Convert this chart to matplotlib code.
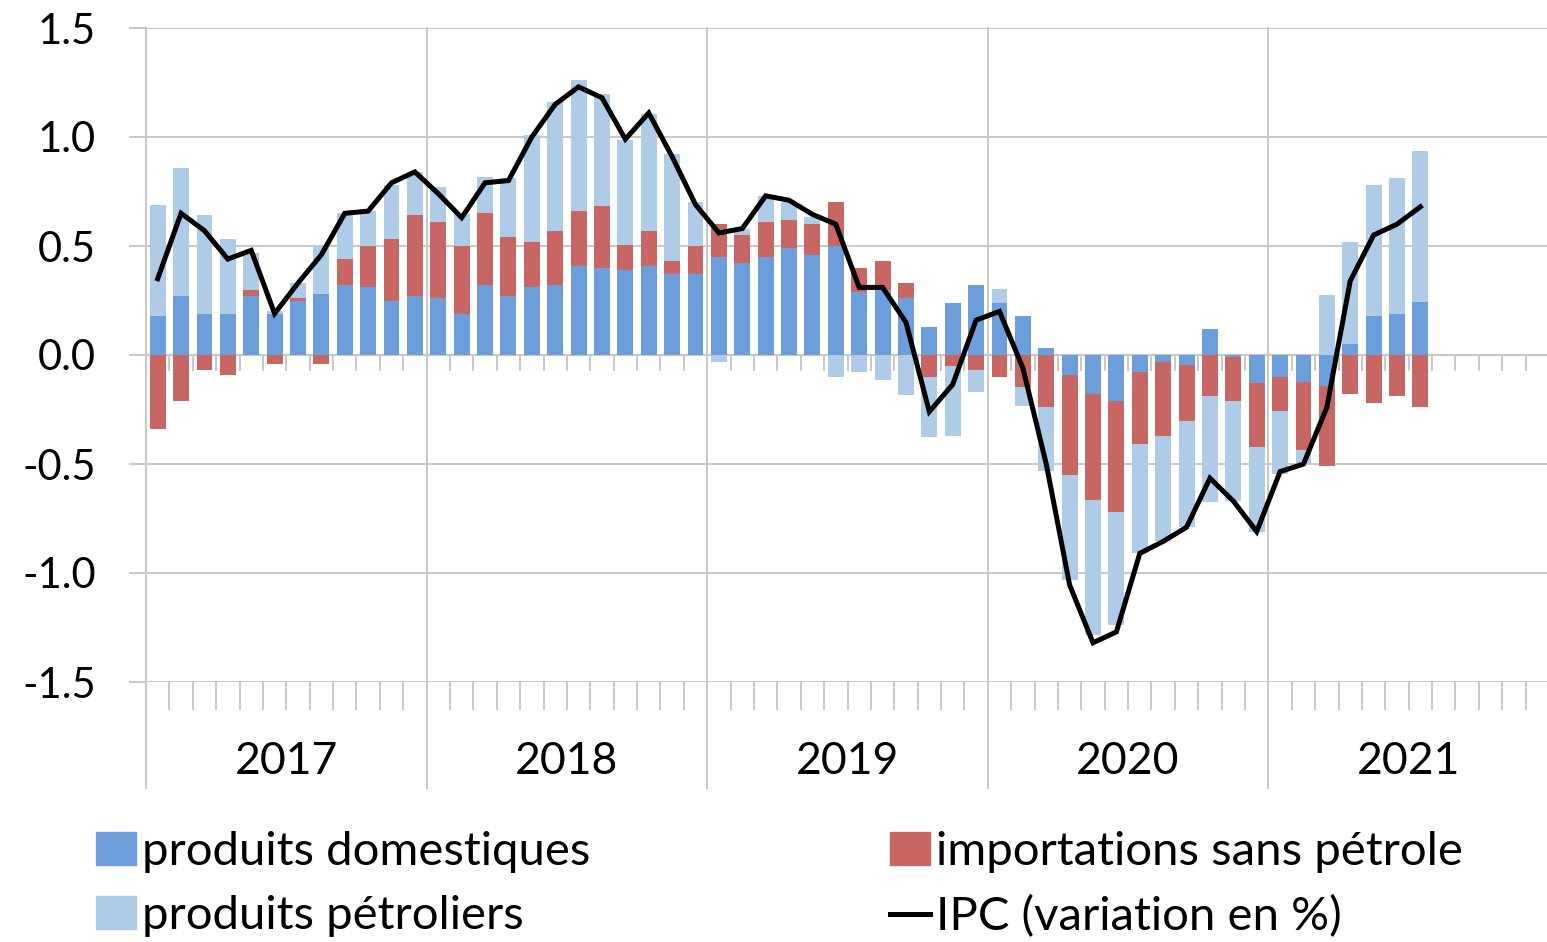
import numpy as np
import matplotlib
matplotlib.use("Agg")
from matplotlib import pyplot as plt
from matplotlib.patches import Patch
from matplotlib.lines import Line2D

plt.rcParams['font.family'] = ['Lato', 'DejaVu Sans']

years = ['2017', '2018', '2019', '2020', '2021']
n_months = 60

# contributions (points de %), janv. 2017 - juil. 2021
domestiques = [0.18, 0.27, 0.19, 0.19, 0.27, 0.19, 0.25, 0.28, 0.32, 0.31, 0.25, 0.27,
               0.26, 0.19, 0.32, 0.27, 0.31, 0.32, 0.41, 0.40, 0.39, 0.41, 0.37, 0.37,
               0.45, 0.42, 0.45, 0.49, 0.46, 0.50, 0.29, 0.30, 0.26, 0.13, 0.24, 0.32,
               0.24, 0.18, 0.03, -0.09, -0.18, -0.21, -0.08, -0.03, -0.045, 0.12, -0.01, -0.13,
               -0.10, -0.125, -0.14, 0.05, 0.18, 0.19, 0.245]
importations = [-0.34, -0.21, -0.07, -0.09, 0.03, -0.04, 0.01, -0.04, 0.12, 0.19, 0.28, 0.37,
                0.35, 0.31, 0.33, 0.27, 0.21, 0.25, 0.25, 0.285, 0.115, 0.16, 0.06, 0.13,
                0.15, 0.13, 0.16, 0.13, 0.14, 0.20, 0.11, 0.13, 0.07, -0.10, -0.05, -0.07,
                -0.10, -0.145, -0.24, -0.46, -0.485, -0.51, -0.33, -0.34, -0.26, -0.19, -0.20, -0.29,
                -0.155, -0.31, -0.37, -0.18, -0.22, -0.19, -0.24]
petroliers = [0.51, 0.59, 0.45, 0.34, 0.17, 0.01, 0.07, 0.22, 0.21, 0.16, 0.25, 0.20,
              0.16, 0.145, 0.165, 0.27, 0.49, 0.59, 0.60, 0.51, 0.48, 0.535, 0.49, 0.20,
              -0.03, 0.03, 0.12, 0.08, 0.035, -0.10, -0.08, -0.115, -0.185, -0.275, -0.32, -0.10,
              0.063, -0.09, -0.29, -0.48, -0.62, -0.52, -0.50, -0.485, -0.485, -0.485, -0.46, -0.39,
              -0.29, -0.065, 0.275, 0.47, 0.60, 0.62, 0.69]
ipc = [0.35, 0.65, 0.57, 0.44, 0.48, 0.19, 0.33, 0.46, 0.65, 0.66, 0.79, 0.84,
       0.74, 0.63, 0.79, 0.80, 1.00, 1.15, 1.23, 1.18, 0.99, 1.11, 0.91, 0.69,
       0.56, 0.58, 0.73, 0.71, 0.645, 0.60, 0.31, 0.31, 0.15, -0.26, -0.135, 0.16,
       0.20, -0.06, -0.50, -1.055, -1.32, -1.27, -0.91, -0.855, -0.79, -0.565, -0.67, -0.81,
       -0.535, -0.50, -0.24, 0.34, 0.55, 0.60, 0.68]

labels = ['produits domestiques', 'importations sans pétrole', 'produits pétroliers', 'IPC (variation en %)']
colors = ['#6B9EDA', '#C86663', '#AECCE8']

W, H = 1547, 942
fig = plt.figure(figsize=(W / 100, H / 100), dpi=100)
ax = fig.add_axes([146 / W, 1 - 682 / H, 1403 / W, 654 / H])

x = np.arange(len(ipc))
pos = np.zeros(len(x))
neg = np.zeros(len(x))
for vals, c in zip([domestiques, importations, petroliers], colors):
    v = np.array(vals)
    bottom = np.where(v >= 0, pos, neg)
    ax.bar(x, v, bottom=bottom, width=0.68, color=c, zorder=2)
    pos = pos + np.where(v >= 0, v, 0)
    neg = neg + np.where(v < 0, v, 0)

ax.plot(x, ipc, color='black', lw=3.6, zorder=3, solid_joinstyle='miter')

grid_c = '#C8C8C8'
ax.set_xlim(-0.5, n_months - 0.5)
ax.set_ylim(-1.5, 1.5)
ax.set_yticks(np.arange(-1.5, 1.51, 0.5))
ax.set_yticklabels([f'{t:.1f}' for t in np.arange(-1.5, 1.51, 0.5)], fontsize=30)
ax.yaxis.grid(True, color=grid_c, lw=1.4, zorder=0)
ax.tick_params(axis='y', length=12, width=1.4, color=grid_c, pad=24)
ax.set_xticks([])
for s in ax.spines.values():
    s.set_visible(False)
ax.axhline(0, color=grid_c, lw=1.6, zorder=1)

# séparateurs d'années et graduations mensuelles
for k in range(len(years) + 1):
    xb = -0.5 + 12 * k
    ax.plot([xb, xb], [1.0, -0.162], transform=ax.get_xaxis_transform(),
            color=grid_c, lw=1.4, clip_on=False, zorder=0)
for m in range(1, n_months):
    if m % 12 == 0:
        continue
    xb = m - 0.5
    ax.plot([xb, xb], [0, -0.041], transform=ax.get_xaxis_transform(),
            color=grid_c, lw=1.4, clip_on=False, zorder=0)
    ax.plot([xb, xb], [0, -0.07], color=grid_c, lw=1.4, zorder=1)

for k, yr in enumerate(years):
    ax.text(12 * k + 5.5, -0.122, yr, transform=ax.get_xaxis_transform(),
            ha='center', va='center', fontsize=32)

handles = [Patch(color=colors[0]), Patch(color=colors[2]),
           Patch(color=colors[1]), Line2D([0], [0], color='black', lw=3.6)]
leg_labels = [labels[0], labels[2], labels[1], labels[3]]
fig.legend(handles, leg_labels, loc='upper left', bbox_to_anchor=(96 / W, 1 - 831 / H),
           ncol=2, frameon=False, fontsize=34, handlelength=0.85, handleheight=0.68,
           handletextpad=0.12, columnspacing=6.35, labelspacing=0.47,
           borderpad=0, borderaxespad=0)

fig.savefig('out.png', dpi=100)
